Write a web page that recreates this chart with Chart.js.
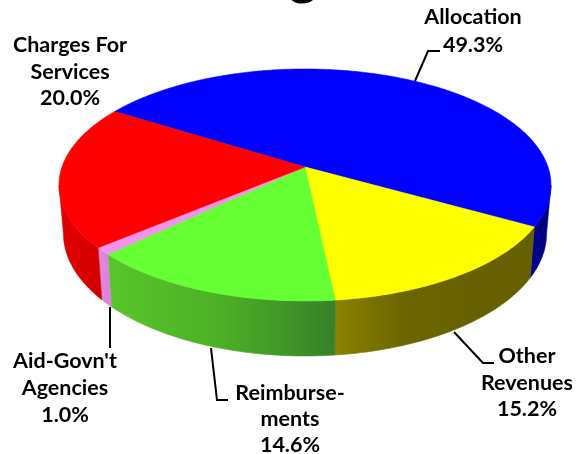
<!DOCTYPE html>
<html>
<head>
<meta charset="utf-8">
<style>
  html, body { margin: 0; padding: 0; background: #fff; overflow: hidden; }
  canvas { display: block; }
</style>
<script src="https://cdn.jsdelivr.net/npm/chart.js@4/dist/chart.umd.js"></script>
</head>
<body>
<canvas id="pie" width="576" height="454"></canvas>
<script>
const categories = ['Allocation', 'Other Revenues', 'Reimbursements', "Aid-Govn't Agencies", 'Charges For Services']
const shares = [49.3, 15.2, 14.6, 1.0, 20.0]
const labelLines = [['Allocation'], ['Other', 'Revenues'], ['Reimburse-', 'ments'], ["Aid-Govn't", 'Agencies'], ['Charges For', 'Services']]

const topColors = ['#0000ff', '#ffff00', '#66ff33', '#f592ec', '#ff0000']
const wallColors = [
    ['#00008c', '#00007a'],
    ['#8a8200', '#6c6600', '#666000', '#666000'],
    ['#58c62a', '#4cb026', '#37802a'],
    ['#e088e0', '#dc84dc'],
    ['#e20000', '#d40000']
]

// where each label goes: centre x, first baseline, line gap
const labelPos = [
    { x: 473, y: 24, gap: 28 },
    { x: 527, y: 363, gap: 26.5 },
    { x: 290, y: 400, gap: 26 },
    { x: 65, y: 368, gap: 27 },
    { x: 70, y: 52, gap: 26.5 }
]

const leaders = [
    [[415, 81], [428, 51], [440, 51]],
    [[454, 332], [483, 363], [494, 363]],
    [[211, 348], [217, 400], [228, 400]],
    [[110, 307], [110, 348]]
]

// perspective of the pie top
const cx = 305, cy = 167, rx = 243, ry = 113.2, k = 0.155
const edge = Math.asin(k)

function project(a) {
    const u = Math.cos(a), v = Math.sin(a), w = 1 - k * v
    return [cx + rx * u / w, cy + ry * v / w]
}

function lower(p) {
    return [cx + (p[0] - cx) * 0.982, p[1] + 51 + (p[1] - 228) * 0.055]
}

function arcPoints(a1, a2) {
    let pts = []
    const n = Math.max(2, Math.ceil((a2 - a1) / 0.01))
    for (let i = 0; i <= n; i++) pts.push(project(a1 + (a2 - a1) * i / n))
    return pts
}

function drawWall(ctx, start, end, stops) {
    // front of the pie runs from edge to PI - edge
    ;[0, Math.PI * 2].forEach(turn => {
        const a1 = Math.max(start - turn, edge)
        const a2 = Math.min(end - turn, Math.PI - edge)
        if (a2 <= a1) return
        const pts = arcPoints(a1, a2)
        const x1 = pts[0][0], x2 = pts[pts.length - 1][0]
        const grad = ctx.createLinearGradient(x2, 0, x1, 0)
        stops.forEach((c, i) => grad.addColorStop(i / (stops.length - 1), c))
        ctx.beginPath()
        pts.forEach((p, i) => i ? ctx.lineTo(p[0], p[1]) : ctx.moveTo(p[0], p[1]))
        pts.slice().reverse().forEach(p => {
            const q = lower(p)
            ctx.lineTo(q[0], q[1])
        })
        ctx.closePath()
        ctx.fillStyle = grad
        ctx.strokeStyle = grad
        ctx.lineWidth = 0.6
        ctx.fill()
        ctx.stroke()
    })
}

function drawTop(ctx, start, end, color) {
    ctx.beginPath()
    ctx.moveTo(cx, cy)
    arcPoints(start, end).forEach(p => ctx.lineTo(p[0], p[1]))
    ctx.closePath()
    ctx.fillStyle = color
    ctx.strokeStyle = color
    ctx.lineWidth = 0.6
    ctx.fill()
    ctx.stroke()
}

const pie3d = {
    id: 'pie3d',
    beforeDatasetDraw(chart, args) {
        const ctx = chart.ctx
        const arcs = chart.getDatasetMeta(args.index).data
        ctx.save()
        arcs.forEach((arc, i) => {
            let s = arc.startAngle, e = arc.endAngle
            while (s < 0) { s += Math.PI * 2; e += Math.PI * 2 }
            drawWall(ctx, s, e, wallColors[i])
        })
        arcs.forEach((arc, i) => drawTop(ctx, arc.startAngle, arc.endAngle, topColors[i]))
        ctx.restore()
        return false
    },
    afterDraw(chart) {
        const ctx = chart.ctx
        ctx.save()

        // title is cut off by the top of the picture
        ctx.fillStyle = '#000'
        ctx.textAlign = 'center'
        ctx.font = 'bold 54px Lato'
        ctx.fillText('g', 303, -6)

        ctx.strokeStyle = '#000'
        ctx.lineWidth = 2
        leaders.forEach(line => {
            ctx.beginPath()
            line.forEach((p, i) => i ? ctx.lineTo(p[0], p[1]) : ctx.moveTo(p[0], p[1]))
            ctx.stroke()
        })

        ctx.font = 'bold 21.5px Lato'
        shares.forEach((v, i) => {
            const pos = labelPos[i]
            labelLines[i].concat(v.toFixed(1) + '%').forEach((txt, j) => {
                ctx.fillText(txt, pos.x, pos.y + pos.gap * j)
            })
        })
        ctx.restore()
    }
}

new Chart(document.getElementById('pie'), {
    type: 'pie',
    data: {
        labels: categories,
        datasets: [{
            data: shares,
            backgroundColor: topColors,
            borderWidth: 0
        }]
    },
    options: {
        responsive: false,
        animation: false,
        rotation: 302,
        plugins: {
            legend: { display: false },
            tooltip: { enabled: false }
        }
    },
    plugins: [pie3d]
})
</script>
</body>
</html>
